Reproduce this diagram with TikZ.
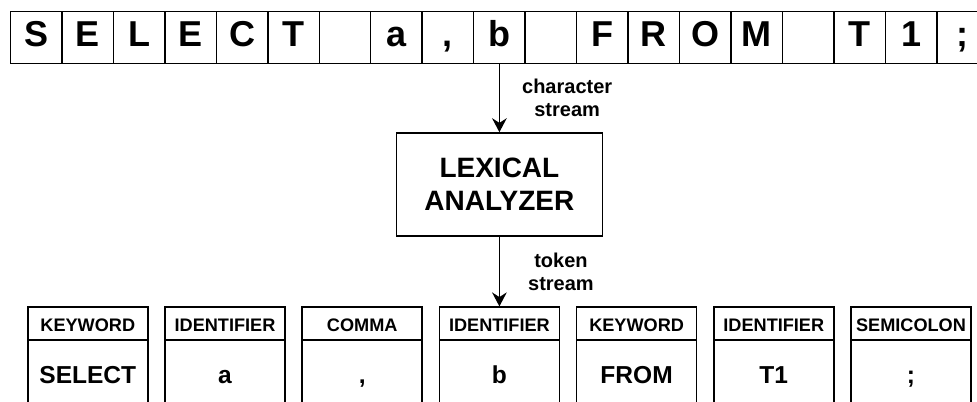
\documentclass[tikz,border=0pt]{standalone}
\usepackage{fontspec}
\setmainfont{Liberation Sans}
\usetikzlibrary{matrix,positioning,arrows.meta}
\tikzset{
charrow/.style={matrix of nodes,nodes in empty cells,
nodes={draw=black,minimum width=38.6pt,minimum height=39pt,inner sep=0pt,
text height=19.35pt,text depth=5.85pt,font=\fontsize{27}{30}\selectfont\bfseries},
row sep=-\pgflinewidth,column sep=-\pgflinewidth,ampersand replacement=\&,inner sep=0pt},
tokrow/.style={matrix of nodes,nodes in empty cells,
nodes={draw=black,minimum width=90pt,inner sep=0pt,font=\bfseries},
row 1/.style={nodes={minimum height=24.75pt,text height=12.3pt,text depth=0pt,font=\fontsize{13.6}{16}\selectfont\bfseries}},
row 2/.style={nodes={minimum height=52.5pt,text height=13.2pt,text depth=1.2pt,font=\fontsize{18.4}{22}\selectfont\bfseries}},
row sep=-\pgflinewidth,column sep=11.8pt,ampersand replacement=\&,inner sep=0pt},
lexbox/.style={draw=black,minimum width=154.5pt,minimum height=77.25pt,align=center,inner sep=0pt,
font=\fontsize{21}{24.75}\selectfont\bfseries},
explain/.style={font=\fontsize{15}{17.25}\selectfont\bfseries,align=center,inner sep=0pt},
flowarrow/.style={-{Stealth[length=10.5pt,width=11pt,inset=3.5pt]}}
}

\begin{document}
\begin{tikzpicture}[x=0.75pt,y=-0.75pt,line width=1.1pt]
\path[use as bounding box,clip] (0,0) rectangle (977,401);
% input characters
\matrix[charrow,anchor=north west] (chars) at (9,10) {
S \& E \& L \& E \& C \& T \& \& a \& , \& b \& \& F \& R \& O \& M \& \& T \& 1 \& {;}\\
};
\node[lexbox,below=51pt of chars-1-10] (lex) {LEXICAL\\ANALYZER};
% tokens
\matrix[tokrow,below=51.75pt of lex] (toks) {
KEYWORD \& IDENTIFIER \& COMMA \& IDENTIFIER \& KEYWORD \& IDENTIFIER \& SEMICOLON\\
SELECT \& a \& , \& b \& FROM \& T1 \& {;}\\
};
\draw[flowarrow] (chars-1-10) -- node[explain,right=16.5pt] {character\\stream} (lex);
\draw[flowarrow] (lex) -- node[explain,right=21pt] {token\\stream} (toks-1-4);
\end{tikzpicture}
\end{document}
